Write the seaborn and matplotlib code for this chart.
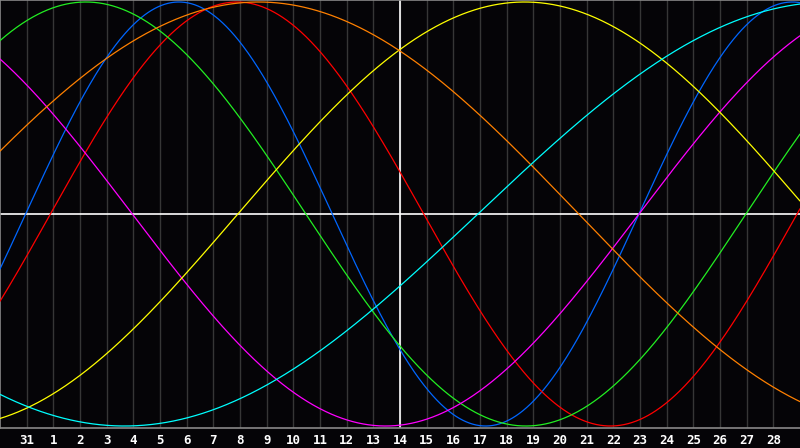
import numpy as np
import pandas as pd
import matplotlib
matplotlib.use("Agg")
import matplotlib.pyplot as plt
import seaborn as sns

# Biorhythm cycles (period in days) and the chart position (in day units
# from the left edge) where each cycle crosses zero going upward
cycles = ["Physical", "Emotional", "Intellectual", "Intuitive", "Aesthetic", "Awareness", "Spiritual"]
periods = [23, 28, 33, 38, 43, 48, 53]
zero_up = [23.96, 29.89, 27.97, 23.96, 8.92, -2.3, 17.92]
colors = ["#0066ff", "#ff0000", "#22ee22", "#ff00ff", "#ffff00", "#ff8000", "#00ffff"]

day_labels = ["31"] + [str(d) for d in range(1, 29)]
today_label = "14"

n_days = 30
t = np.linspace(0, n_days, 1201)
frames = []
for name, p, z in zip(cycles, periods, zero_up):
    frames.append(pd.DataFrame({"t": t, "value": np.sin(2 * np.pi * (t - z) / p), "cycle": name}))
df = pd.concat(frames, ignore_index=True)

sns.set_style("dark")
bg = "#050407"
fig = plt.figure(figsize=(8, 4.48), dpi=100, facecolor=bg)
ax = fig.add_axes([0, 20 / 448, 1, 428 / 448])
ax.set_facecolor(bg)

tick_pos = np.arange(1, len(day_labels) + 1)
for x in tick_pos:
    ax.axvline(x, color="#363636", lw=1.0, zorder=1)
today_x = tick_pos[day_labels.index(today_label)]
ax.axvline(today_x, color="white", lw=1.2, zorder=2)
ax.axhline(0, color="white", lw=1.2, zorder=2)

sns.lineplot(data=df, x="t", y="value", hue="cycle", palette=dict(zip(cycles, colors)),
             linewidth=0.9, legend=False, ax=ax, zorder=3)

ax.set_xlim(0, n_days)
lim = 214 / 212
ax.set_ylim(-lim, lim)
ax.set_xticks(tick_pos)
ax.set_xticklabels(day_labels, color="white", fontweight="bold",
                   family="DejaVu Sans Mono", fontsize=9)
ax.tick_params(axis="x", length=0, pad=4)
ax.set_yticks([])
ax.set_xlabel("")
ax.set_ylabel("")
ax.grid(False)
for side in ["left", "top", "bottom"]:
    ax.spines[side].set_visible(True)
    ax.spines[side].set_color("#888888")
    ax.spines[side].set_linewidth(1.2)
ax.spines["right"].set_visible(False)

fig.savefig("out.png", dpi=100, facecolor=bg)
